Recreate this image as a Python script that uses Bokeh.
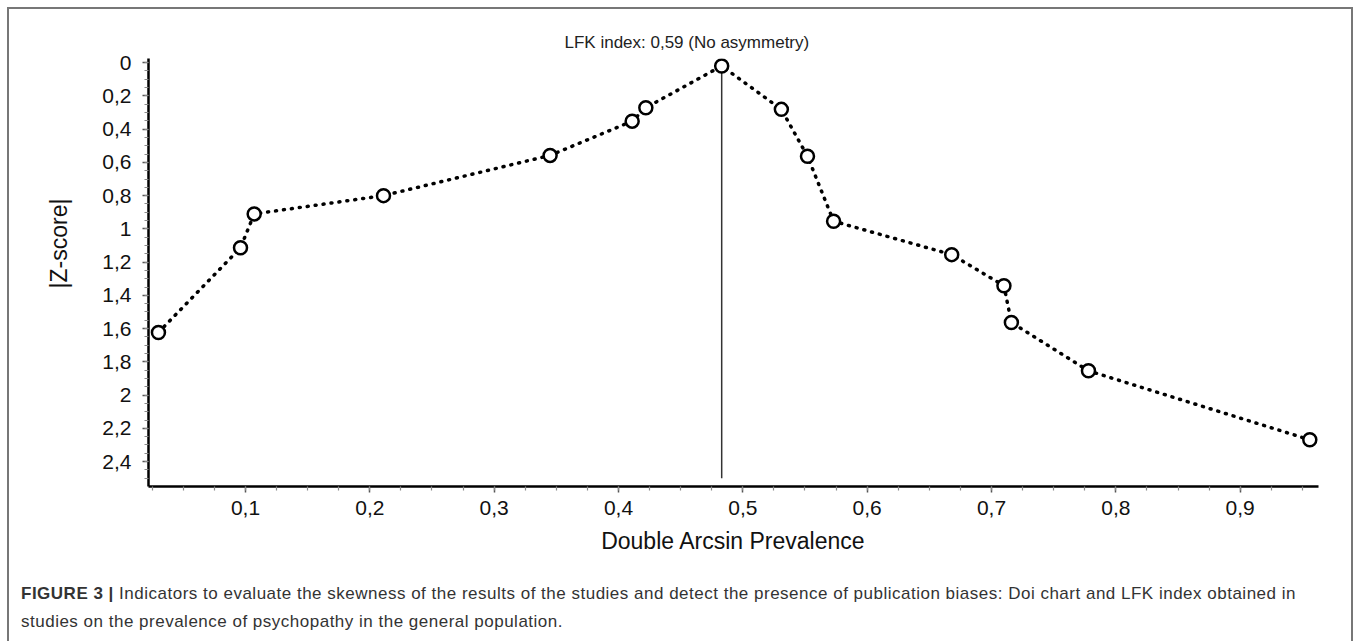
from bokeh.plotting import figure
from bokeh.models import Range1d, FixedTicker, Title, Div
from bokeh.layouts import column
from bokeh.embed import file_html
from bokeh.resources import INLINE

# ---- data ----
x_vals = [0.030, 0.096, 0.107, 0.211, 0.345, 0.411, 0.422, 0.483,
          0.531, 0.552, 0.573, 0.668, 0.710, 0.716, 0.778, 0.956]
z_vals = [1.623, 1.114, 0.910, 0.800, 0.558, 0.352, 0.271, 0.020,
          0.281, 0.563, 0.954, 1.155, 1.342, 1.563, 1.854, 2.269]
ref_x = [0.483]
ref_z_top = [0.020]
ref_z_bottom = [2.50]

x_ticks = [0.1, 0.2, 0.3, 0.4, 0.5, 0.6, 0.7, 0.8, 0.9]
x_tick_labels = ["0,1", "0,2", "0,3", "0,4", "0,5", "0,6", "0,7", "0,8", "0,9"]
y_ticks = [0, 0.2, 0.4, 0.6, 0.8, 1.0, 1.2, 1.4, 1.6, 1.8, 2.0, 2.2, 2.4]
y_tick_labels = ["0", "0,2", "0,4", "0,6", "0,8", "1", "1,2", "1,4", "1,6", "1,8", "2", "2,2", "2,4"]
x_minor = [round(0.025 * i, 3) for i in range(1, 39)]
y_minor = [round(0.05 * i, 2) for i in range(0, 51)]

title_text = "LFK index: 0,59 (No asymmetry)"
x_title = "Double Arcsin Prevalence"
y_title = "|Z-score|"
caption_bold = "FIGURE 3 |"
caption_line1 = ("Indicators to evaluate the skewness of the results of the studies and detect "
                 "the presence of publication biases: Doi chart and LFK index obtained in")
caption_line2 = "studies on the prevalence of psychopathy in the general population."

FONT = "Liberation Sans"

p = figure(width=1342, height=560, output_backend="svg", toolbar_location=None,
           x_range=Range1d(0.022, 0.963), y_range=Range1d(2.55, -0.025),
           min_border_left=139, min_border_top=49, min_border_right=33, min_border_bottom=83)
p.grid.visible = False
p.outline_line_color = None
p.background_fill_color = "white"
p.border_fill_color = "white"

# top title (LFK index)
p.title.text = title_text
p.title.text_font = FONT
p.title.text_font_size = "17px"
p.title.text_font_style = "normal"
p.title.text_color = "#222222"
p.title.align = "left"
p.title.offset = 416
p.title.standoff = 14

for ax in (p.xaxis[0], p.yaxis[0]):
    ax.axis_line_color = "black"
    ax.axis_line_width = 2.5
    ax.major_tick_line_color = "#555555"
    ax.major_tick_line_width = 1.5
    ax.major_tick_out = 6
    ax.major_tick_in = 0
    ax.minor_tick_line_color = "#8a8a8a"
    ax.minor_tick_line_width = 1.2
    ax.minor_tick_out = 4
    ax.minor_tick_in = 0
    ax.major_label_text_font = FONT
    ax.major_label_text_font_size = "21px"
    ax.major_label_text_color = "#111111"

p.xaxis[0].major_label_standoff = 8
p.yaxis[0].major_label_standoff = 11

p.xaxis[0].ticker = FixedTicker(ticks=x_ticks, minor_ticks=x_minor)
p.xaxis[0].major_label_overrides = {t: l for t, l in zip(x_ticks, x_tick_labels)}
p.yaxis[0].ticker = FixedTicker(ticks=y_ticks, minor_ticks=y_minor)
p.yaxis[0].major_label_overrides = {t: l for t, l in zip(y_ticks, y_tick_labels)}

p.xaxis[0].axis_label = x_title
p.xaxis[0].axis_label_text_font = FONT
p.xaxis[0].axis_label_text_font_size = "23px"
p.xaxis[0].axis_label_text_font_style = "normal"
p.xaxis[0].axis_label_text_color = "#111111"
p.xaxis[0].axis_label_standoff = 10

# y title as a left-side title so it can be offset like the reference
p.add_layout(Title(text=y_title, text_font=FONT, text_font_size="23px",
                   text_font_style="normal", text_color="#111111",
                   align="right", offset=140, standoff=56), "left")

# reference vertical line
p.segment(x0=ref_x, y0=ref_z_top, x1=ref_x, y1=ref_z_bottom, line_color="#333333", line_width=1.5)

# dotted Doi curve
p.line(x_vals, z_vals, line_color="black", line_width=3.5, line_dash="1 7", line_cap="round")
p.scatter(x_vals, z_vals, size=13, marker="circle", fill_color="white",
          line_color="black", line_width=2.5)

caption_html = (
    '<div style="font-family:\'Liberation Sans\',Arial,sans-serif;font-size:17px;color:#333333;'
    'letter-spacing:0.5px;line-height:28px;white-space:nowrap;padding-left:7px;padding-top:6px;">'
    f'<b>{caption_bold}</b> {caption_line1}<br>{caption_line2}</div>'
)
cap = Div(text=caption_html, width=1342, height=72)

layout = column(p, cap, spacing=0, width=1346, height=634, sizing_mode="fixed",
                styles={"border-top": "2px solid #777777", "border-left": "2px solid #777777",
                        "border-right": "2px solid #777777", "margin-left": "7px",
                        "margin-top": "7px", "background-color": "white"})

open("out.html", "w").write(file_html(layout, INLINE))
